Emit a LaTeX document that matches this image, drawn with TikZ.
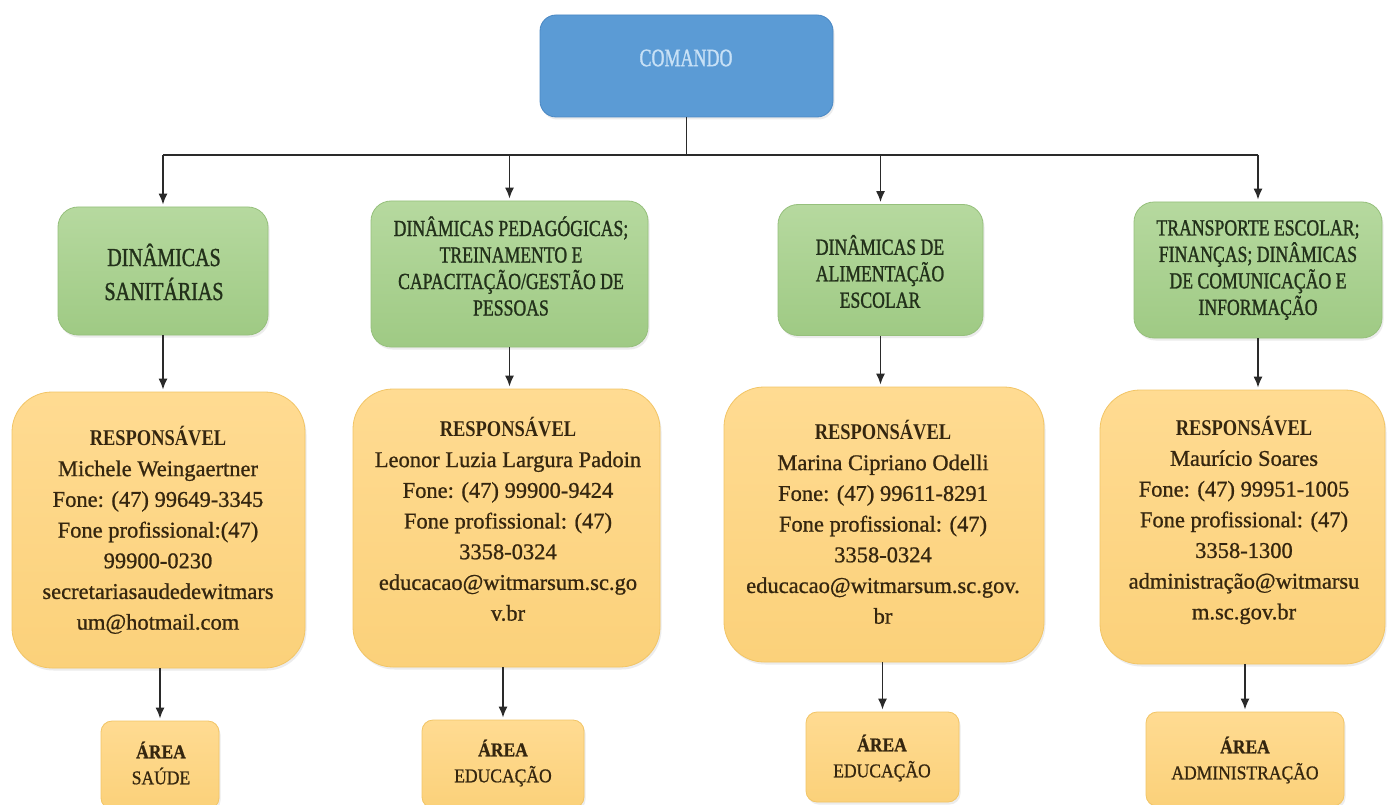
\documentclass[tikz,border=0pt]{standalone}
\usepackage{fontspec}
\setmainfont{Liberation Serif}[FakeBold=0.9]
\newfontfamily\cmdfont{Liberation Serif}[FakeStretch=0.72,FakeBold=1.2]
\newfontfamily\grfont{Liberation Serif}[FakeStretch=0.77,FakeBold=1.1]
\newfontfamily\hdfont{Liberation Serif}[FakeStretch=0.82]
\newfontfamily\arfont{Liberation Serif}[FakeStretch=0.9,FakeBold=0.8]
\usetikzlibrary{arrows.meta,shadows}
\definecolor{linec}{HTML}{2A2A2A}
\definecolor{cmdblue}{HTML}{5B9BD5}
\definecolor{cmdedge}{HTML}{4A88C4}
\definecolor{cmdtext}{HTML}{C8E1F6}
\definecolor{grtop}{HTML}{B6D99F}
\definecolor{grbot}{HTML}{9FCA84}
\definecolor{gredge}{HTML}{96C07C}
\definecolor{grtext}{HTML}{22301A}
\definecolor{ortop}{HTML}{FFDB92}
\definecolor{orbot}{HTML}{FBD17A}
\definecolor{oredge}{HTML}{F2C566}
\definecolor{ortext}{HTML}{35260F}
\begin{document}
\begin{tikzpicture}[x=1pt,y=-1pt,
  conn/.style={draw=linec, line width=1.5pt},
  arr/.style={conn, -{Latex[length=11pt,width=9pt]}, shorten >=2pt},
  bx/.style={rectangle, inner sep=0pt, line width=0.8pt,
    drop shadow={opacity=0.15, shadow xshift=1.5pt, shadow yshift=-2.5pt}},
  cmdbox/.style={bx, rounded corners=16pt, fill=cmdblue, draw=cmdedge},
  grbox/.style={bx, rounded corners=20pt, top color=grtop, bottom color=grbot, draw=gredge},
  orbox/.style={bx, rounded corners=40pt, top color=ortop, bottom color=orbot, draw=oredge},
  arbox/.style={bx, rounded corners=11pt, top color=ortop, bottom color=orbot, draw=oredge},
  gtxt/.style={inner sep=0pt, align=center, text=grtext, font=\grfont\fontsize{23}{26.5}\selectfont},
  otxt/.style={inner sep=0pt, align=center, text=ortext, font=\fontsize{22.5}{30.7}\selectfont},
  atxt/.style={inner sep=0pt, align=center, text=ortext, font=\arfont\fontsize{19.5}{26}\selectfont}
]
\useasboundingbox (0,0) rectangle (1389,805);
\clip (0,0) rectangle (1389,805);
\fill[white] (0,0) rectangle (1389,805);

% command box
\node[cmdbox, minimum width=293pt, minimum height=102pt] (cmd) at (686.5,66) {};
\node[inner sep=0pt, text=cmdtext, font=\cmdfont\fontsize{25}{30}\selectfont] (cmdt) at (686,58) {COMANDO};

% green boxes
\node[grbox, minimum width=210pt, minimum height=128pt] (g1) at (163,271) {};
\node[grbox, minimum width=277pt, minimum height=146pt] (g2) at (509.5,274) {};
\node[grbox, minimum width=205pt, minimum height=131pt] (g3) at (880.5,270) {};
\node[grbox, minimum width=248pt, minimum height=136pt] (g4) at (1258,270) {};

\node[gtxt, font=\grfont\fontsize{26}{34}\selectfont] (g1t) at (164,272) {DINÂMICAS\\SANITÁRIAS};
\node[gtxt] (g2t) at (511,266) {DINÂMICAS PEDAGÓGICAS;\\TREINAMENTO E\\CAPACITAÇÃO/GESTÃO DE\\PESSOAS};
\node[gtxt] (g3t) at (880,271.5) {DINÂMICAS DE\\ALIMENTAÇÃO\\ESCOLAR};
\node[gtxt] (g4t) at (1258,270) {TRANSPORTE ESCOLAR;\\FINANÇAS; DINÂMICAS\\DE COMUNICAÇÃO E\\INFORMAÇÃO};

% orange boxes
\node[orbox, minimum width=293pt, minimum height=276pt] (o1) at (158.5,530) {};
\node[orbox, minimum width=307pt, minimum height=278pt] (o2) at (506.5,528) {};
\node[orbox, minimum width=320pt, minimum height=275pt] (o3) at (884,524.5) {};
\node[orbox, minimum width=285pt, minimum height=274pt] (o4) at (1242.5,527) {};

\node[otxt] (o1t) at (158,530) {{\hdfont\bfseries RESPONSÁVEL}\\Michele Weingaertner\\Fone: (47) 99649-3345\\Fone profissional:(47)\\99900-0230\\secretariasaudedewitmars\\um@hotmail.com};
\node[otxt] (o2t) at (508,519) {{\hdfont\bfseries RESPONSÁVEL}\\Leonor Luzia Largura Padoin\\Fone: (47) 99900-9424\\Fone profissional: (47)\\3358-0324\\educacao@witmarsum.sc.go\\v.br};
\node[otxt] (o3t) at (883,522) {{\hdfont\bfseries RESPONSÁVEL}\\Marina Cipriano Odelli\\Fone: (47) 99611-8291\\Fone profissional: (47)\\3358-0324\\educacao@witmarsum.sc.gov.\\br};
\node[otxt] (o4t) at (1244,520) {{\hdfont\bfseries RESPONSÁVEL}\\Maurício Soares\\Fone: (47) 99951-1005\\Fone profissional: (47)\\3358-1300\\administração@witmarsu\\m.sc.gov.br};

% area boxes
\node[arbox, minimum width=118pt, minimum height=88pt] (a1) at (160,765) {};
\node[arbox, minimum width=162pt, minimum height=88pt] (a2) at (503,764) {};
\node[arbox, minimum width=153pt, minimum height=90pt] (a3) at (882.5,757) {};
\node[arbox, minimum width=198pt, minimum height=94pt] (a4) at (1245,759) {};

\node[atxt] (a1t) at (161,763) {{\bfseries ÁREA}\\SAÚDE};
\node[atxt] (a2t) at (503,763) {{\bfseries ÁREA}\\EDUCAÇÃO};
\node[atxt] (a3t) at (882,758) {{\bfseries ÁREA}\\EDUCAÇÃO};
\node[atxt] (a4t) at (1245,760) {{\bfseries ÁREA}\\ADMINISTRAÇÃO};

% connectors
\coordinate (bus) at (686.5,155);
\draw[conn] (cmd.south) -- (bus);
\draw[conn] (g1.north |- bus) -- (g4.north |- bus);
\foreach \g in {g1,g2,g3,g4} \draw[arr] (\g.north |- bus) -- (\g.north);
\draw[arr] (g1.south) -- (g1.south |- o1.north);
\draw[arr] (g2.south) -- (g2.south |- o2.north);
\draw[arr] (g3.south) -- (g3.south |- o3.north);
\draw[arr] (g4.south) -- (g4.south |- o4.north);
\draw[arr] (o1.south -| a1.north) -- (a1.north);
\draw[arr] (o2.south -| a2.north) -- (a2.north);
\draw[arr] (o3.south -| a3.north) -- (a3.north);
\draw[arr] (o4.south -| a4.north) -- (a4.north);
\end{tikzpicture}
\end{document}
